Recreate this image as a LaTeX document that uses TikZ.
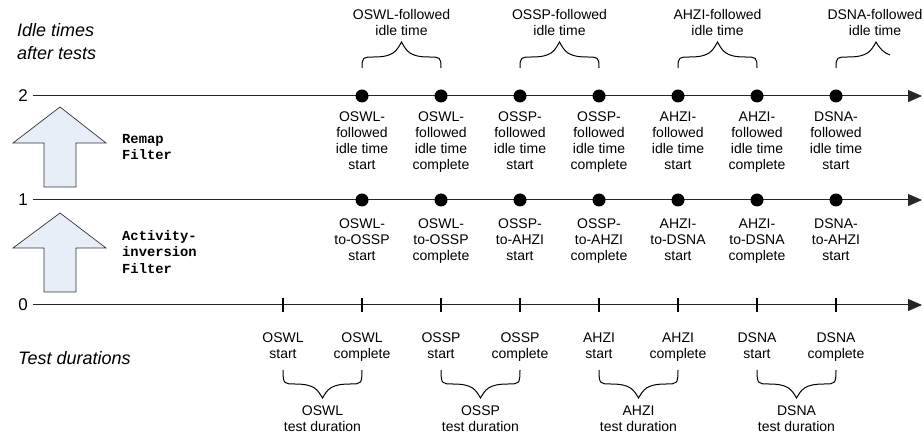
\documentclass[tikz,border=0pt]{standalone}
\usepackage{fontspec}
\setmainfont{Liberation Sans}
\setmonofont{Liberation Mono}
\usetikzlibrary{arrows.meta}
\definecolor{arrowfill}{HTML}{E8EEF8}
\tikzset{
 axisline/.style={draw=black!85, line width=1pt, -{Triangle[length=14pt,width=12pt]}},
 dotnode/.style={circle, fill=black, inner sep=0pt, minimum size=13pt},
 tickline/.style={line width=2pt, draw=black},
 lbl/.style={font=\fontsize{14}{16}\selectfont, align=center, anchor=base, inner sep=0pt},
 bigital/.style={font=\fontsize{18}{23}\selectfont\itshape, align=left, anchor=base west, inner sep=0pt},
 filtertext/.style={font=\fontsize{13.8}{16.5}\selectfont\ttfamily\bfseries, align=left, anchor=base west, inner sep=0pt},
 blockarrow/.style={draw=black!80, fill=arrowfill, line width=0.7pt},
 bracel/.style={draw=black, line width=1pt},
 axnum/.style={font=\fontsize{17}{20}\selectfont, anchor=east, inner sep=0pt},
}
\newcommand\hbrace[5]{%
 \pgfmathsetmacro\bracemid{(#1+#2)/2}%
 \pgfmathsetmacro\bracec{#5+0.6*(#4-#5)}%
 \draw[bracel] (#1,#3) .. controls (#1,#4) and (#1+1,#4) .. (#1+12,#4)
   .. controls (\bracemid-8,#4) and (\bracemid-5,\bracec) .. (\bracemid,#5)
   .. controls (\bracemid+5,\bracec) and (\bracemid+8,#4) .. (#2-12,#4)
   .. controls (#2-1,#4) and (#2,#4) .. (#2,#3);}
\begin{document}
\begin{tikzpicture}[x=1pt,y=-1pt]
\useasboundingbox (0,0) rectangle (923,435);
% block arrows
\draw[blockarrow] (60,107) -- (106,143) -- (76,143) -- (76,187) -- (44,187) -- (44,143) -- (13,143) -- cycle;
\draw[blockarrow] (60,213) -- (106,248) -- (76,248) -- (76,292) -- (44,292) -- (44,248) -- (13,248) -- cycle;
\node[filtertext] (remap) at (122,160) {Remap\\Filter};
\node[filtertext] (actinv) at (122,273.5) {Activity-\\inversion\\Filter};
% axes
\coordinate (a2s) at (33,96);  \coordinate (a2e) at (922,96);
\coordinate (a1s) at (33,200); \coordinate (a1e) at (922,200);
\coordinate (a0s) at (33,305); \coordinate (a0e) at (922,305);
\draw[axisline] (a2s) -- (a2e);
\draw[axisline] (a1s) -- (a1e);
\draw[axisline] (a0s) -- (a0e);
\node[axnum] (n2) at (28,96) {2};
\node[axnum] (n1) at (28,200) {1};
\node[axnum] (n0) at (28,305) {0};
% titles
\node[bigital] (idle) at (17,59.5) {Idle times\\after tests};
\node[bigital] (testdur) at (18,364.5) {Test durations};
% dots
\foreach \x [count=\i] in {362,441,520,599,678,757,836}{
  \node[dotnode] (dtwo\i) at (\x,96) {};
  \node[dotnode] (done\i) at (\x,200) {};
}
% ticks
\foreach \x [count=\i] in {283,362,441,520,599,678,757,836}{
  \coordinate (tk\i) at (\x,305);
  \draw[tickline] ([yshift=7pt]tk\i) -- ([yshift=-7pt]tk\i);
}
% row 2 labels
\node[lbl] (la1) at (362,170) {OSWL-\\followed\\idle time\\start};
\node[lbl] (la2) at (441,170) {OSWL-\\followed\\idle time\\complete};
\node[lbl] (la3) at (520,170) {OSSP-\\followed\\idle time\\start};
\node[lbl] (la4) at (599,170) {OSSP-\\followed\\idle time\\complete};
\node[lbl] (la5) at (678,170) {AHZI-\\followed\\idle time\\start};
\node[lbl] (la6) at (757,170) {AHZI-\\followed\\idle time\\complete};
\node[lbl] (la7) at (836,170) {DSNA-\\followed\\idle time\\start};
% row 1 labels
\node[lbl] (lb1) at (362,261) {OSWL-\\to-OSSP\\start};
\node[lbl] (lb2) at (441,261) {OSWL-\\to-OSSP\\complete};
\node[lbl] (lb3) at (520,261) {OSSP-\\to-AHZI\\start};
\node[lbl] (lb4) at (599,261) {OSSP-\\to-AHZI\\complete};
\node[lbl] (lb5) at (678,261) {AHZI-\\to-DSNA\\start};
\node[lbl] (lb6) at (757,261) {AHZI-\\to-DSNA\\complete};
\node[lbl] (lb7) at (836,261) {DSNA-\\to-AHZI\\start};
% row 0 labels
\node[lbl] (lc1) at (283,358) {OSWL\\start};
\node[lbl] (lc2) at (362,358) {OSWL\\complete};
\node[lbl] (lc3) at (441,358) {OSSP\\start};
\node[lbl] (lc4) at (520,358) {OSSP\\complete};
\node[lbl] (lc5) at (599,358) {AHZI\\start};
\node[lbl] (lc6) at (678,358) {AHZI\\complete};
\node[lbl] (lc7) at (757,358) {DSNA\\start};
\node[lbl] (lc8) at (836,358) {DSNA\\complete};
% top braces
\hbrace{362}{441}{68}{57}{42}
\hbrace{520}{599}{68}{57}{42}
\hbrace{678}{757}{68}{57}{42}
\draw[bracel] (836,68) .. controls (836,57) and (837,57) .. (848,57)
   .. controls (868,57) and (871,51) .. (876,42)
   .. controls (880,49) and (884,53) .. (890,55);
\node[lbl] (ta1) at (401.5,36) {OSWL-followed\\idle time};
\node[lbl] (ta2) at (559.5,36) {OSSP-followed\\idle time};
\node[lbl] (ta3) at (717.5,36) {AHZI-followed\\idle time};
\node[lbl] (ta4) at (875,36) {DSNA-followed\\idle time};
% bottom braces
\hbrace{283}{362}{370}{384}{398}
\hbrace{441}{520}{370}{384}{398}
\hbrace{599}{678}{370}{384}{398}
\hbrace{757}{836}{370}{384}{398}
\node[lbl] (ba1) at (322.5,431) {OSWL\\test duration};
\node[lbl] (ba2) at (480.5,431) {OSSP\\test duration};
\node[lbl] (ba3) at (638.5,431) {AHZI\\test duration};
\node[lbl] (ba4) at (796.5,431) {DSNA\\test duration};
\end{tikzpicture}
\end{document}
